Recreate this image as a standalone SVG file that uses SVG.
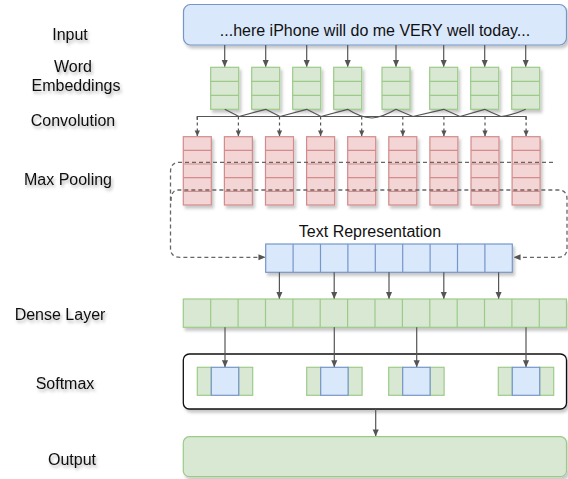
<svg xmlns="http://www.w3.org/2000/svg" width="568" height="479" viewBox="0 0 568 479">
  <defs>
    <filter id="shadow" x="-10%" y="-10%" width="130%" height="140%">
      <feDropShadow dx="2" dy="3" stdDeviation="1.6" flood-color="#000" flood-opacity="0.22"/>
    </filter>
    <filter id="tshadow" x="-10%" y="-20%" width="130%" height="160%">
      <feDropShadow dx="1.5" dy="2.5" stdDeviation="1.4" flood-color="#000" flood-opacity="0.3"/>
    </filter>
    <marker id="arrow" viewBox="0 0 8 8" refX="7.5" refY="4" markerWidth="7" markerHeight="7" markerUnits="userSpaceOnUse" orient="auto">
      <path d="M0,0.5 L8,4 L0,7.5 Z" fill="#555"/>
    </marker>
    <marker id="arrowS" viewBox="0 0 8 8" refX="7.5" refY="4" markerWidth="6" markerHeight="6" markerUnits="userSpaceOnUse" orient="auto">
      <path d="M0,0.5 L8,4 L0,7.5 Z" fill="#555"/>
    </marker>
  </defs>
  <style>
    .lbl { font-family: "Liberation Sans", Arial, sans-serif; font-size: 16px; fill: #111; text-anchor: middle; }
    .green { fill: #d9e8d3; stroke: #9ccb88; stroke-width: 1.2; }
    .red { fill: #f3d5d5; stroke: #d38b8b; stroke-width: 1.2; }
    .blue { fill: #dae8fc; stroke: #7596c8; stroke-width: 1.2; }
    .cell { stroke-width: 1.2; fill: none; }
    .gl { stroke: #9ccb88; }
    .rl { stroke: #d38b8b; }
    .bl { stroke: #7596c8; }
    .conn { fill: none; stroke: #555; stroke-width: 1.2; }
    .dash { fill: none; stroke: #666; stroke-width: 1.3; stroke-dasharray: 4 3; }
    .dsmall { fill: none; stroke: #555; stroke-width: 1.2; stroke-dasharray: 3 3; }
  </style>

  <!-- layer labels -->
  <g id="labels" filter="url(#tshadow)">
    <text class="lbl" x="70" y="40">Input</text>
    <text class="lbl" x="73" y="71.5">Word</text>
    <text class="lbl" x="76" y="90.5">Embeddings</text>
    <text class="lbl" x="73" y="126">Convolution</text>
    <text class="lbl" x="68" y="184.5">Max Pooling</text>
    <text class="lbl" x="60" y="319.5">Dense Layer</text>
    <text class="lbl" x="65" y="388.5">Softmax</text>
    <text class="lbl" x="72" y="465">Output</text>
  </g>

  <!-- input sentence -->
  <g id="input">
    <rect x="183.5" y="4.5" width="383" height="40.5" rx="7" class="blue" stroke="#6c8ebf" filter="url(#shadow)"/>
    <text class="lbl" x="375" y="36">...here iPhone will do me VERY well today...</text>
  </g>

  <!-- word embeddings: 8 vectors of 3 cells -->
  <g id="embeddings">
    <g filter="url(#shadow)">
      <rect x="210.7" y="67.3" width="28" height="42" class="green"/>
      <rect x="251.7" y="67.3" width="28" height="42" class="green"/>
      <rect x="292.7" y="67.3" width="28" height="42" class="green"/>
      <rect x="333.7" y="67.3" width="28" height="42" class="green"/>
      <rect x="382" y="67.3" width="28" height="42" class="green"/>
      <rect x="429.7" y="67.3" width="28" height="42" class="green"/>
      <rect x="470.7" y="67.3" width="28" height="42" class="green"/>
      <rect x="511.7" y="67.3" width="28" height="42" class="green"/>
    </g>
    <path class="cell gl" d="M210.7,81.3h28M210.7,95.3h28 M251.7,81.3h28M251.7,95.3h28 M292.7,81.3h28M292.7,95.3h28 M333.7,81.3h28M333.7,95.3h28 M382,81.3h28M382,95.3h28 M429.7,81.3h28M429.7,95.3h28 M470.7,81.3h28M470.7,95.3h28 M511.7,81.3h28M511.7,95.3h28"/>
  </g>

  <!-- max pooling: 9 feature columns of 5 cells -->
  <g id="pooling">
    <g filter="url(#shadow)">
      <rect x="183.3" y="136.7" width="28" height="68.3" class="red"/>
      <rect x="224.4" y="136.7" width="28" height="68.3" class="red"/>
      <rect x="265.5" y="136.7" width="28" height="68.3" class="red"/>
      <rect x="306.6" y="136.7" width="28" height="68.3" class="red"/>
      <rect x="347.7" y="136.7" width="28" height="68.3" class="red"/>
      <rect x="388.8" y="136.7" width="28" height="68.3" class="red"/>
      <rect x="429.9" y="136.7" width="28" height="68.3" class="red"/>
      <rect x="471" y="136.7" width="28" height="68.3" class="red"/>
      <rect x="512.1" y="136.7" width="28" height="68.3" class="red"/>
    </g>
    <path class="cell rl" d="M183.3,150.4H540.1M183.3,164.0H540.1M183.3,177.7H540.1M183.3,191.3H540.1" stroke-dasharray="28 13.1"/>
  </g>

  <!-- text representation vector -->
  <g id="text-representation">
    <text class="lbl" x="370" y="237">Text Representation</text>
    <rect x="265.7" y="244" width="246.6" height="28.3" class="blue" filter="url(#shadow)"/>
    <path class="cell bl" d="M293.1,244v28.3M320.5,244v28.3M347.9,244v28.3M375.3,244v28.3M402.7,244v28.3M430.1,244v28.3M457.5,244v28.3M484.9,244v28.3"/>
  </g>

  <!-- dense layer -->
  <g id="dense">
    <rect x="183.3" y="299" width="383.2" height="28.3" class="green" filter="url(#shadow)"/>
    <path class="cell gl" d="M210.7,299v28.3M238.1,299v28.3M265.5,299v28.3M292.9,299v28.3M320.2,299v28.3M347.6,299v28.3M375,299v28.3M402.4,299v28.3M429.8,299v28.3M457.2,299v28.3M484.5,299v28.3M511.9,299v28.3M539.3,299v28.3"/>
  </g>

  <!-- softmax -->
  <g id="softmax">
    <rect x="183.3" y="354" width="383.2" height="55" rx="6" fill="#fff" stroke="#111" stroke-width="1.3" filter="url(#shadow)"/>
    <g>
      <rect x="197.3" y="367.3" width="14" height="28" class="green"/>
      <rect x="238.7" y="367.3" width="14" height="28" class="green"/>
      <rect x="211.3" y="367.3" width="27.4" height="28" class="blue"/>
    </g>
    <g>
      <rect x="306.7" y="367.3" width="14" height="28" class="green"/>
      <rect x="348.1" y="367.3" width="14" height="28" class="green"/>
      <rect x="320.7" y="367.3" width="27.4" height="28" class="blue"/>
    </g>
    <g>
      <rect x="388.7" y="367.3" width="14" height="28" class="green"/>
      <rect x="430.1" y="367.3" width="14" height="28" class="green"/>
      <rect x="402.7" y="367.3" width="27.4" height="28" class="blue"/>
    </g>
    <g>
      <rect x="498.3" y="367.3" width="14" height="28" class="green"/>
      <rect x="539.7" y="367.3" width="14" height="28" class="green"/>
      <rect x="512.3" y="367.3" width="27.4" height="28" class="blue"/>
    </g>
  </g>

  <!-- output -->
  <g id="output">
    <rect x="183.3" y="436.7" width="383.2" height="40" rx="6" class="green" filter="url(#shadow)"/>
  </g>

  <!-- connectors -->
  <g id="connectors">
    <!-- input to embeddings -->
    <path class="conn" marker-end="url(#arrow)" d="M224.7,45V66.5"/>
    <path class="conn" marker-end="url(#arrow)" d="M265.7,45V66.5"/>
    <path class="conn" marker-end="url(#arrow)" d="M306.7,45V66.5"/>
    <path class="conn" marker-end="url(#arrow)" d="M347.7,45V66.5"/>
    <path class="conn" marker-end="url(#arrow)" d="M396,45V66.5"/>
    <path class="conn" marker-end="url(#arrow)" d="M443.7,45V66.5"/>
    <path class="conn" marker-end="url(#arrow)" d="M484.7,45V66.5"/>
    <path class="conn" marker-end="url(#arrow)" d="M525.7,45V66.5"/>

    <!-- convolution windows -->
    <path class="conn" d="M197.3,120V116.5H526.1V120"/>
    <path class="conn" stroke-linejoin="round" d="M224.7,109.3 Q232,113 239,116.5 Q252,113 265.7,109.3 Q273,113 280,116.5 Q293,113 306.7,109.3 Q314,113 321,116.5 Q334,113 347.7,109.3 Q360,117.5 372,118 Q382,117.5 396,109.3 Q404,113 413,116.5 Q428,113 443.7,109.3 Q452,113 460,116.5 Q472,113 484.7,109.3 Q492,113 501,116.5 Q514,115 525.7,109.3"/>

    <!-- convolution to pooling -->
    <path class="dsmall" marker-end="url(#arrowS)" d="M197.3,116.5V136"/>
    <path class="dsmall" marker-end="url(#arrowS)" d="M238.4,116.5V136"/>
    <path class="dsmall" marker-end="url(#arrowS)" d="M279.5,116.5V136"/>
    <path class="dsmall" marker-end="url(#arrowS)" d="M320.6,116.5V136"/>
    <path class="dsmall" marker-end="url(#arrowS)" d="M361.7,116.5V136"/>
    <path class="dsmall" marker-end="url(#arrowS)" d="M402.8,116.5V136"/>
    <path class="dsmall" marker-end="url(#arrowS)" d="M443.9,116.5V136"/>
    <path class="dsmall" marker-end="url(#arrowS)" d="M485,116.5V136"/>
    <path class="dsmall" marker-end="url(#arrowS)" d="M526.1,116.5V136"/>

    <!-- pooled rows to text representation -->
    <path class="dash" marker-end="url(#arrow)" d="M553,162.3H180Q170.5,162.3 170.5,172V248Q170.5,257.3 180,257.3H265"/>
    <path class="dash" d="M171,201Q171,190 178,190H558Q567,190 567,199V248Q567,257.3 558,257.3H514" marker-end="url(#arrow)"/>

    <!-- text representation to dense -->
    <path class="conn" marker-end="url(#arrow)" d="M279.4,272.3V298.5"/>
    <path class="conn" marker-end="url(#arrow)" d="M334.2,272.3V298.5"/>
    <path class="conn" marker-end="url(#arrow)" d="M389,272.3V298.5"/>
    <path class="conn" marker-end="url(#arrow)" d="M443.8,272.3V298.5"/>
    <path class="conn" marker-end="url(#arrow)" d="M498.6,272.3V298.5"/>

    <!-- dense to softmax -->
    <path class="conn" marker-end="url(#arrow)" d="M225,327.3V366.8"/>
    <path class="conn" marker-end="url(#arrow)" d="M334.3,327.3V366.8"/>
    <path class="conn" marker-end="url(#arrow)" d="M416.7,327.3V366.8"/>
    <path class="conn" marker-end="url(#arrow)" d="M526,327.3V366.8"/>

    <!-- softmax to output -->
    <path class="conn" marker-end="url(#arrow)" d="M375.7,409V436"/>
  </g>
</svg>
